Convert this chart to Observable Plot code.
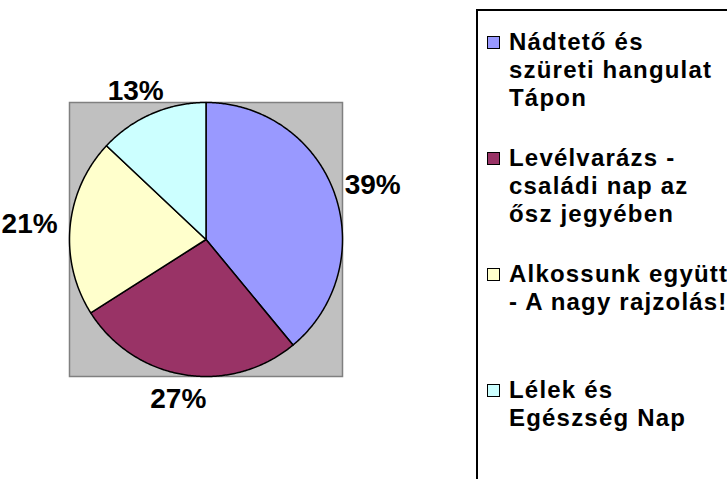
<!DOCTYPE html>
<html>
<head>
<meta charset="utf-8">
<script src="https://cdn.jsdelivr.net/npm/d3@7"></script>
<script src="https://cdn.jsdelivr.net/npm/@observablehq/plot@0.6"></script>
<style>
html, body { margin: 0; padding: 0; background: #fff; overflow: hidden; width: 727px; height: 479px; }
#wrap { position: relative; width: 727px; height: 479px; overflow: hidden; font-family: "Liberation Sans", Arial, sans-serif; }
#chart { position: absolute; left: 0; top: 0; }
#legend { position: absolute; left: 476px; top: 9px; width: 320px; height: 500px; border: 2px solid #000; border-right: none; box-sizing: border-box; background: #fff; }
.item { position: absolute; left: 0; }
.sw { position: absolute; left: 9px; width: 11px; height: 11px; border: 1px solid #000; }
.tx { position: absolute; left: 31px; white-space: pre; font-weight: bold; font-size: 24px; line-height: 28px; letter-spacing: 1.2px; color: #000; }
</style>
</head>
<body>
<div id="wrap">
  <div id="chart"></div>
  <div id="legend"></div>
</div>
<script>
// ---- data ----
const categories = [
  "Nádtető és szüreti hangulat Tápon",
  "Levélvarázs - családi nap az ősz jegyében",
  "Alkossunk együtt - A nagy rajzolás!",
  "Lélek és Egészség Nap"
];
const legendLines = [
  ["Nádtető és", "szüreti hangulat", "Tápon"],
  ["Levélvarázs -", "családi nap az", "ősz jegyében"],
  ["Alkossunk együtt", "- A nagy rajzolás!"],
  ["Lélek és", "Egészség Nap"]
];
const values = [39, 27, 21, 13];
const valueLabels = ["39%", "27%", "21%", "13%"];
const colors = ["#9999FF", "#993366", "#FFFFCC", "#CCFFFF"];

// ---- pie geometry (in data units, radius 1) ----
const arcs = d3.pie().sort(null).value(d => d)(values);
const poly = [];
arcs.forEach((a, i) => {
  const cat = categories[i];
  const n = Math.max(2, Math.ceil((a.endAngle - a.startAngle) / 0.01));
  poly.push({cat, x: 0, y: 0});
  for (let k = 0; k <= n; k++) {
    const t = a.startAngle + (a.endAngle - a.startAngle) * k / n;
    poly.push({cat, x: Math.sin(t), y: Math.cos(t)});
  }
  poly.push({cat, x: 0, y: 0});
});
const R = 136.5; // pixel radius used only to convert label half-size offsets
const labelData = arcs.map((a, i) => {
  const m = (a.startAngle + a.endAngle) / 2;
  return {
    text: valueLabels[i],
    x: 1.1 * Math.sin(m) + (27 * Math.sin(m)) / R,
    y: 1.1 * Math.cos(m) + (11 * Math.cos(m)) / R
  };
});

const chart = Plot.plot({
  width: 727,
  height: 479,
  marginLeft: 69,
  marginRight: 385,
  marginTop: 102,
  marginBottom: 103,
  style: {fontFamily: "Liberation Sans, Arial, sans-serif", background: "transparent"},
  x: {domain: [-1, 1], axis: null},
  y: {domain: [-1, 1], axis: null},
  color: {domain: categories, range: colors},
  marks: [
    Plot.frame({fill: "#C0C0C0", stroke: "#808080", strokeWidth: 1.5}),
    Plot.line(poly, {x: "x", y: "y", z: "cat", fill: "cat", stroke: "#000", strokeWidth: 1.5, curve: "linear"}),
    Plot.text(labelData, {x: "x", y: "y", text: "text", fontSize: 28, fontWeight: "bold", fill: "#000", textAnchor: "middle", lineAnchor: "middle"})
  ]
});
document.getElementById("chart").appendChild(chart);

// ---- legend ----
const legend = d3.select("#legend");
categories.forEach((c, i) => {
  const top = 17 + i * 116;
  const item = legend.append("div").attr("class", "item").style("top", top + "px");
  item.append("div").attr("class", "sw").style("top", "8px").style("background", colors[i]);
  item.append("div").attr("class", "tx").style("top", "0px").text(legendLines[i].join("\n"));
});
</script>
</body>
</html>
